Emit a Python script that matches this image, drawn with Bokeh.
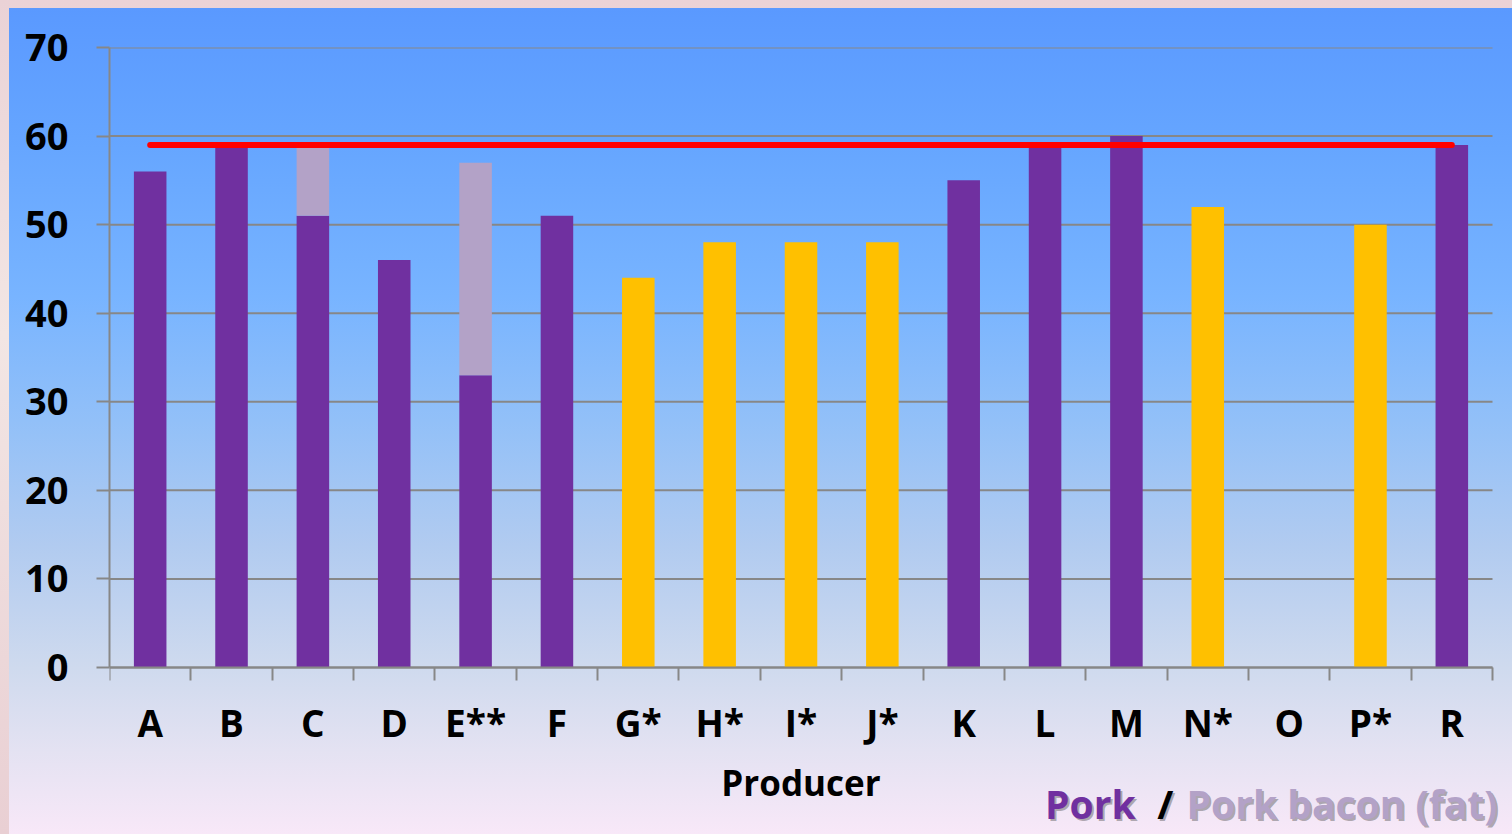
from bokeh.plotting import figure
from bokeh.models import (ColumnDataSource, Range1d, FixedTicker, Label,
                          InlineStyleSheet)
from bokeh.embed import file_html
from bokeh.resources import INLINE

# Producers along the x axis
producers = ["A", "B", "C", "D", "E**", "F", "G*", "H*", "I*", "J*",
             "K", "L", "M", "N*", "O", "P*", "R"]
# Pork (purple) values
pork = [56, 59, 51, 46, 33, 51, 0, 0, 0, 0, 55, 59, 60, 0, 0, 0, 59]
# Pork bacon (fat) stacked on top of pork
bacon_fat = [0, 0, 8, 0, 24, 0, 0, 0, 0, 0, 0, 0, 0, 0, 0, 0, 0]
# Producers marked with an asterisk (yellow)
starred = [0, 0, 0, 0, 0, 0, 44, 48, 48, 48, 0, 0, 0, 52, 0, 50, 0]
# Reference level drawn as the red line
limit = 59
y_ticks = [0, 10, 20, 30, 40, 50, 60, 70]

PURPLE = "#7030A0"
LILAC = "#B3A2C7"
YELLOW = "#FFC000"
GREY = "#878787"
FONT = "Open Sans"

n = len(producers)
idx = list(range(n))
x_lo, x_hi = -0.5, n - 0.5
src = ColumnDataSource(dict(
    x=idx,
    pork=pork,
    fat_top=[p + f for p, f in zip(pork, bacon_fat)],
    starred=starred,
))

# The frame reaches the bottom and right edges so the legend text below the
# axis stays inside it; axis and grid lines are limited to the data area.
p = figure(width=1512, height=834, output_backend="svg", toolbar_location=None,
           x_range=Range1d(x_lo, x_hi + 20 / 81.353),
           y_range=Range1d(-167 * 70 / 620, 70),
           min_border_left=109, min_border_right=0, min_border_top=47,
           min_border_bottom=0)
p.border_fill_color = None
p.background_fill_color = None
p.outline_line_color = None
p.stylesheets = [InlineStyleSheet(css="""
:host {
  background:
    linear-gradient(to bottom, #5A99FF 0%, #66A6FF 17%, #78B4FF 35%, #92C0F8 50%,
                    #B1CBF0 65%, #CFDAEE 80%, #E4E2F2 90%, #F8E8F8 100%)
      9px 8px / calc(100% - 9px) calc(100% - 8px) no-repeat,
    linear-gradient(to bottom, #EAD2D6, #F2E6E4 40%, #E9CFD3 100%);
}
""")]

# horizontal grid lines across the category span
p.xgrid.grid_line_color = None
p.ygrid.grid_line_color = None
p.segment(x0=[x_lo] * len(y_ticks), x1=[x_hi] * len(y_ticks), y0=y_ticks, y1=y_ticks,
          line_color=GREY, line_width=2, level="underlay")

# bars
p.vbar(x="x", top="pork", bottom=0, width=0.4, source=src,
       fill_color=PURPLE, line_color=None)
p.vbar(x="x", top="fat_top", bottom="pork", width=0.4, source=src,
       fill_color=LILAC, line_color=None)
p.vbar(x="x", top="starred", bottom=0, width=0.4, source=src,
       fill_color=YELLOW, line_color=None)

# reference line across all producers
p.line(x=[idx[0], idx[-1]], y=[limit, limit], line_color="#FF0000",
       line_width=6, line_cap="round")

# y axis
p.yaxis.ticker = FixedTicker(ticks=y_ticks)
p.yaxis.bounds = (0, 70)
p.yaxis.axis_line_color = GREY
p.yaxis.axis_line_width = 2
p.yaxis.major_tick_line_color = GREY
p.yaxis.major_tick_line_width = 2
p.yaxis.major_tick_out = 13
p.yaxis.major_tick_in = 0
p.yaxis.minor_tick_line_color = None
p.yaxis.major_label_standoff = 28
p.yaxis.major_label_text_font = FONT
p.yaxis.major_label_text_font_style = "bold"
p.yaxis.major_label_text_font_size = "38px"
p.yaxis.major_label_text_color = "black"

# x axis at value 0: labels at bar centres, tick marks at category boundaries
xa = p.xaxis[0]
xa.fixed_location = 0
xa.bounds = (x_lo, x_hi)
xa.ticker = FixedTicker(ticks=idx, minor_ticks=[i - 0.5 for i in range(n + 1)])
xa.major_label_overrides = {i: name for i, name in enumerate(producers)}
xa.axis_line_color = GREY
xa.axis_line_width = 2
xa.major_tick_line_color = None
xa.major_tick_out = 13
xa.major_tick_in = 0
xa.minor_tick_line_color = GREY
xa.minor_tick_line_width = 2
xa.minor_tick_out = 13
xa.minor_tick_in = 0
xa.major_label_standoff = 16
xa.major_label_text_font = FONT
xa.major_label_text_font_style = "bold"
xa.major_label_text_font_size = "37px"
xa.major_label_text_color = "black"
xa.axis_label = "Producer"
xa.axis_label_text_font = FONT
xa.axis_label_text_font_style = "bold"
xa.axis_label_text_font_size = "35px"
xa.axis_label_text_color = "black"
xa.axis_label_standoff = 8

# legend text in the bottom-right corner
legend_y = -15.35
legend_parts = [("Pork", PURPLE, 11.00), ("/", "black", 12.38),
                ("Pork bacon (fat)", LILAC, 12.74)]
for text, color, lx in legend_parts:
    for dx, dy, c, a in [(2, -2, "#555555", 0.45), (0, 0, color, 1.0)]:
        p.add_layout(Label(x=lx, y=legend_y, text=text, x_offset=dx, y_offset=dy,
                           text_font=FONT, text_font_style="bold",
                           text_font_size="39px", text_color=c, text_alpha=a,
                           text_align="left", text_baseline="alphabetic"))

open("out.html", "w").write(file_html(p, INLINE))
